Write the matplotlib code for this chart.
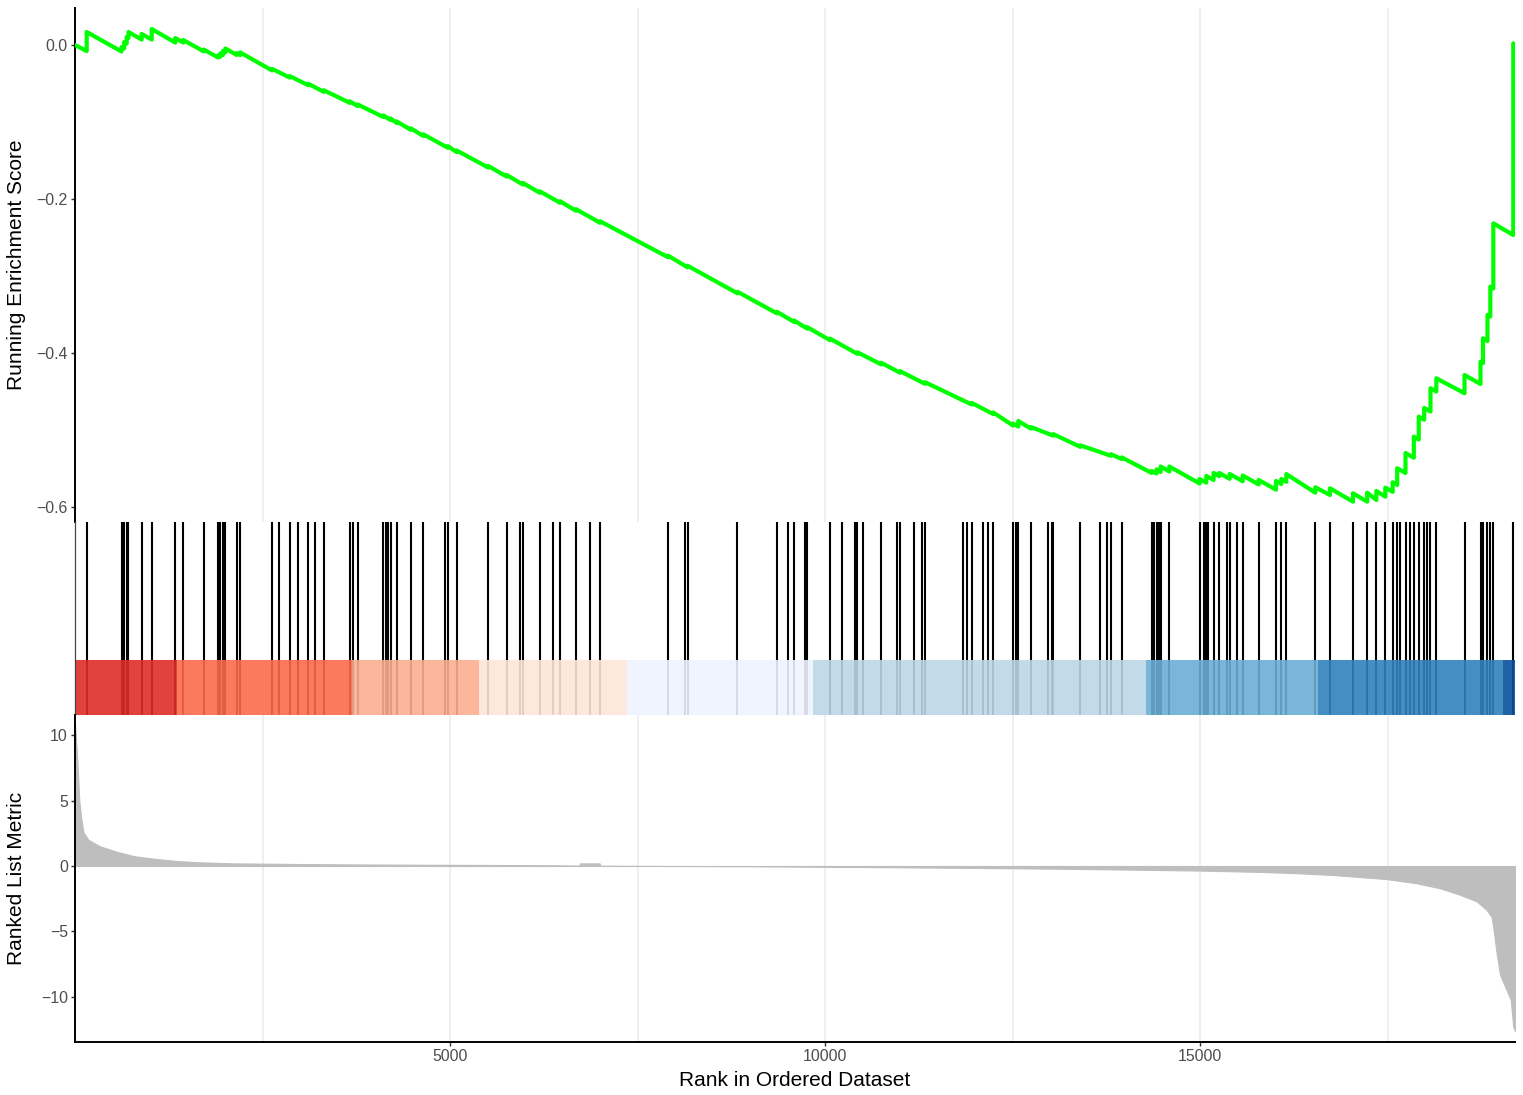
import matplotlib
matplotlib.use('Agg')
import matplotlib.pyplot as plt
from matplotlib.ticker import FixedLocator, FuncFormatter
import numpy as np

plt.rcParams['font.family'] = ['Liberation Sans', 'DejaVu Sans']

# ---------------- data ----------------
n_genes = 19200

hit_ranks = [156, 620, 656, 689, 713, 889, 1023, 1337, 1444, 1716, 1907, 1937, 1973, 2004,
             2156, 2204, 2627, 2724, 2863, 2973, 3111, 3200, 3317, 3663, 3707, 3767, 4111,
             4147, 4177, 4207, 4289, 4476, 4644, 4927, 4971, 5089, 5511, 5756, 5933, 5973,
             6196, 6369, 6467, 6680, 6863, 7000, 7907, 8133, 8167, 8833, 9360, 9511, 9587,
             9727, 9763, 10067, 10223, 10400, 10433, 10507, 10749, 10956, 11000, 11183,
             11296, 11333, 11844, 11889, 11956, 12111, 12177, 12244, 12507, 12544, 12577,
             12744, 12971, 13023, 13044, 13404, 13671, 13760, 13811, 13956, 14356, 14387,
             14420, 14453, 14476, 14591, 14995, 15051, 15084, 15111, 15181, 15257, 15360,
             15395, 15497, 15569, 15781, 16013, 16084, 16151, 16537, 16733, 17040, 17229,
             17351, 17471, 17569, 17629, 17667, 17740, 17800, 17851, 17917, 17989, 18023,
             18073, 18151, 18527, 18740, 18773, 18833, 18871, 18911, 19177]

# running enrichment score: value just before and just after each visible step
es_step_rank = [156, 620, 656, 689, 713, 889, 1023, 1337, 1444, 1716, 1907, 1937, 1973, 2004,
                2156, 2204, 2627, 2863, 3111, 3317, 3663, 3767, 4111, 4207, 4289, 4476, 4644,
                4971, 5089, 5511, 5756, 5973, 6196, 6467, 6680, 7000, 7907, 8167, 8833, 9360,
                9587, 9763, 10067, 10433, 10749, 11000, 11333, 11956, 12244, 12507, 12577,
                12744, 13044, 13404, 13811, 13956, 14356, 14420, 14476, 14591, 14995, 15084,
                15181, 15257, 15395, 15569, 15781, 16013, 16084, 16151, 16537, 16733, 17040,
                17229, 17351, 17471, 17569, 17629, 17740, 17851, 17917, 17989, 18073, 18151,
                18527, 18740, 18773, 18833, 18871, 18911, 19177]
es_before = [-0.0078, -0.0084, -0.0045, 0.0019, 0.0091, 0.0071, 0.0071, 0.0032, 0.0032, -0.0083,
             -0.0162, -0.0153, -0.0130, -0.0095, -0.0129, -0.0130, -0.0330, -0.0423, -0.0523,
             -0.0608, -0.0751, -0.0792, -0.0935, -0.0974, -0.1013, -0.1101, -0.1181, -0.1334,
             -0.1391, -0.1592, -0.1709, -0.1813, -0.1919, -0.2049, -0.2153, -0.2309, -0.2756,
             -0.2887, -0.3225, -0.3486, -0.3597, -0.3684, -0.3834, -0.4012, -0.4148, -0.4256,
             -0.4400, -0.4669, -0.4794, -0.4942, -0.4955, -0.4982, -0.5074, -0.5219, -0.5335,
             -0.5377, -0.5558, -0.5565, -0.5545, -0.5539, -0.5695, -0.5684, -0.5649, -0.5600,
             -0.5634, -0.5666, -0.5706, -0.5775, -0.5701, -0.5673, -0.5814, -0.5844, -0.5931,
             -0.5931, -0.5909, -0.5866, -0.5803, -0.5714, -0.5558, -0.5360, -0.5123, -0.4866,
             -0.4760, -0.4500, -0.4523, -0.4403, -0.4130, -0.3844, -0.3526, -0.3162, -0.2468]
es_after = [0.0169, -0.0026, 0.0039, 0.0104, 0.0169, 0.0143, 0.0208, 0.0091, 0.0065, -0.0058,
            -0.0136, -0.0110, -0.0078, -0.0045, -0.0104, -0.0097, -0.0309, -0.0403, -0.0503,
            -0.0587, -0.0730, -0.0771, -0.0914, -0.0953, -0.0992, -0.1081, -0.1160, -0.1313,
            -0.1370, -0.1571, -0.1688, -0.1792, -0.1899, -0.2029, -0.2132, -0.2288, -0.2735,
            -0.2866, -0.3204, -0.3465, -0.3577, -0.3664, -0.3813, -0.3991, -0.4127, -0.4235,
            -0.4379, -0.4648, -0.4773, -0.4916, -0.4883, -0.4961, -0.5053, -0.5199, -0.5314,
            -0.5356, -0.5532, -0.5513, -0.5474, -0.5474, -0.5636, -0.5597, -0.5558, -0.5558,
            -0.5571, -0.5591, -0.5649, -0.5662, -0.5636, -0.5573, -0.5744, -0.5757, -0.5822,
            -0.5814, -0.5792, -0.5749, -0.5679, -0.5497, -0.5299, -0.5087, -0.4827, -0.4714,
            -0.4458, -0.4329, -0.4286, -0.4113, -0.3809, -0.3506, -0.3139, -0.2316, 0.0022]
es_start = 0.0
es_end = 0.0

metric_rank = [1, 31, 57, 80, 111, 178, 333, 556, 778, 1000, 1356, 1667, 2111, 2511, 3000, 3707,
               4500, 5500, 6400, 6725, 6735, 6995, 7005, 7500, 8000, 9000, 10000, 11000, 12000,
               13000, 14000, 15000, 15800, 16333, 16778, 17489, 17889, 18200, 18467, 18689,
               18822, 18889, 18920, 18956, 19000, 19089, 19143, 19177, 19200]
metric_value = [10.8, 8.1, 5.0, 3.8, 2.6, 2.0, 1.5, 1.09, 0.76, 0.59, 0.38, 0.28, 0.2, 0.18, 0.15,
                0.12, 0.1, 0.08, 0.05, 0.03, 0.2, 0.2, 0.02, 0.01, 0.0, -0.02, -0.06, -0.1, -0.15,
                -0.2, -0.27, -0.35, -0.45, -0.56, -0.69, -1.0, -1.32, -1.7, -2.2, -2.7, -3.36,
                -3.9, -5.1, -6.7, -8.3, -9.5, -10.2, -12.3, -12.6]

band_edges = [0, 1356, 3697, 5387, 7364, 9836, 14280, 16569, 19036, 19200]
band_colors = ['#DE2D26', '#FB6A4A', '#FCAE91', '#FEE5D9', '#EFF3FF',
               '#BDD7E7', '#6BAED6', '#3182BD', '#08519C']

es_ticks = [0.0, -0.2, -0.4, -0.6]
metric_ticks = [10, 5, 0, -5, -10]
rank_ticks = [5000, 10000, 15000]
grid_minor = [2500, 7500, 12500, 17500]

# ---------------- figure ----------------
W, H = 1523, 1095
fig = plt.figure(figsize=(W / 100, H / 100), dpi=100)

def box(x0, y0, x1, y1):
    return [x0 / W, 1 - y1 / H, (x1 - x0) / W, (y1 - y0) / H]

ax1 = fig.add_axes(box(75, 8, 1515, 522))
ax2 = fig.add_axes(box(75, 522, 1515, 715))
ax3 = fig.add_axes(box(75, 715, 1515, 1042))

grid_kw = dict(color='#EBEBEB', linewidth=1.1)
tick_color = '#333333'
label_color = '#4D4D4D'
tick_fs = 11.4
title_fs = 15

# --- top panel: running enrichment score
path_x = [0]
path_y = [es_start]
for r, b, a in zip(es_step_rank, es_before, es_after):
    path_x += [r, r]
    path_y += [b, a]
path_x.append(n_genes)
path_y.append(es_end)
ax1.plot(path_x, path_y, color='#00FF00', linewidth=3.0, solid_joinstyle='round',
         solid_capstyle='round', zorder=3)
ax1.set_xlim(0, n_genes)
ax1.set_ylim(-0.6195, 0.0481)
ax1.xaxis.set_major_locator(FixedLocator(rank_ticks))
ax1.xaxis.set_minor_locator(FixedLocator(grid_minor))
ax1.grid(axis='x', which='both', **grid_kw)
ax1.set_axisbelow(True)
ax1.tick_params(axis='x', which='both', length=0, labelbottom=False)
ax1.yaxis.set_major_locator(FixedLocator(es_ticks))
ax1.yaxis.set_major_formatter(FuncFormatter(lambda v, p: f'{v:.1f}'.replace('-', '\u2212')))
ax1.tick_params(axis='y', length=3.0, width=1.0, color=tick_color, labelcolor=label_color,
                labelsize=tick_fs, pad=2.2)
for s in ['top', 'right', 'bottom']:
    ax1.spines[s].set_visible(False)
ax1.spines['left'].set_linewidth(1.4)
ax1.spines['left'].set_color('black')

# --- middle panel: hits and colour band
ax2.vlines(hit_ranks, 0, 1, color='black', linewidth=1.5, zorder=1)
ax2.bar(band_edges[:-1], 0.285, width=np.diff(band_edges), bottom=0, align='edge',
        color=band_colors, alpha=0.9, linewidth=0, zorder=2)
ax2.set_xlim(0, n_genes)
ax2.set_ylim(0, 1)
ax2.set_xticks([])
ax2.set_yticks([])
for s in ['top', 'right', 'bottom']:
    ax2.spines[s].set_visible(False)
ax2.spines['left'].set_linewidth(0.9)
ax2.spines['left'].set_color('#444444')

# --- bottom panel: ranked list metric
ax3.fill_between(metric_rank, metric_value, 0, color='#BEBEBE', edgecolor='#BEBEBE',
                 linewidth=0.8, zorder=2)
ax3.set_xlim(0, n_genes)
ax3.set_ylim(-13.44, 11.53)
ax3.xaxis.set_major_locator(FixedLocator(rank_ticks))
ax3.xaxis.set_minor_locator(FixedLocator(grid_minor))
ax3.grid(axis='x', which='both', **grid_kw)
ax3.set_axisbelow(True)
ax3.tick_params(axis='x', which='minor', length=0)
ax3.tick_params(axis='x', which='major', length=3.0, width=1.0, color=tick_color,
                labelcolor=label_color, labelsize=tick_fs, pad=2.2)
ax3.yaxis.set_major_locator(FixedLocator(metric_ticks))
ax3.yaxis.set_major_formatter(FuncFormatter(lambda v, p: f'{int(v)}'.replace('-', '\u2212')))
ax3.tick_params(axis='y', length=3.0, width=1.0, color=tick_color, labelcolor=label_color,
                labelsize=tick_fs, pad=2.2)
for s in ['top', 'right']:
    ax3.spines[s].set_visible(False)
for s in ['left', 'bottom']:
    ax3.spines[s].set_linewidth(1.4)
    ax3.spines[s].set_color('black')

# --- axis titles
fig.text(17 / W, 1 - 265 / H, 'Running Enrichment Score', rotation=90, ha='center',
         va='center', fontsize=title_fs, color='black')
fig.text(17 / W, 1 - 878 / H, 'Ranked List Metric', rotation=90, ha='center',
         va='center', fontsize=title_fs, color='black')
fig.text(795 / W, 1 - 1080 / H, 'Rank in Ordered Dataset', ha='center', va='center',
         fontsize=title_fs, color='black')

fig.savefig('out.png', dpi=100)
